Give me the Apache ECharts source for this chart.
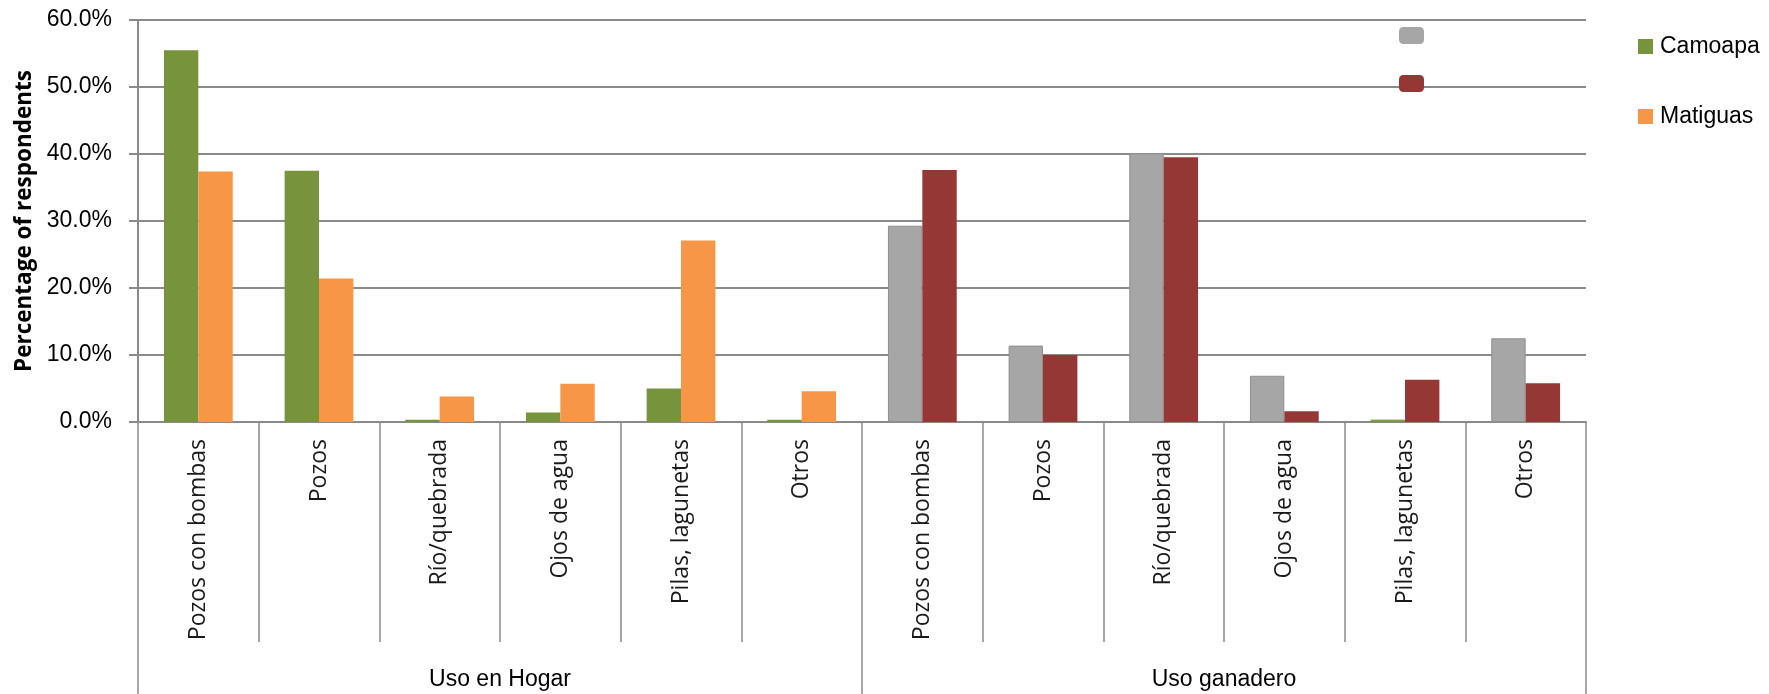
<!DOCTYPE html>
<html>
<head>
<meta charset="utf-8">
<script src="https://cdn.jsdelivr.net/npm/echarts@6/dist/echarts.min.js"></script>
<style>
html,body{margin:0;padding:0;background:#fff;}
#chart{width:1769px;height:694px;}
</style>
</head>
<body>
<div id="chart"></div>
<script>
const categories = ['Pozos con bombas','Pozos','Río/quebrada','Ojos de agua','Pilas, lagunetas','Otros',
                    'Pozos con bombas','Pozos','Río/quebrada','Ojos de agua','Pilas, lagunetas','Otros'];
const groups = ['Uso en Hogar','Uso ganadero'];
const camoapa  = [55.5, 37.5, 0.35, 1.4, 5.0, 0.35, null, null, null, null, null, null];
const matiguas = [37.4, 21.4, 3.8, 5.7, 27.1, 4.6, null, null, null, null, null, null];
const ganCamoapa  = [null, null, null, null, null, null, 29.3, 11.4, 40.1, 6.9, 0.35, 12.5];
const ganMatiguas = [null, null, null, null, null, null, 37.6, 10.0, 39.5, 1.6, 6.3, 5.8];
const yTicks = [0, 10, 20, 30, 40, 50, 60];

const GREEN = '#77933C', ORANGE = '#F79646', GRAY = '#A6A6A6', RED = '#953735';
const GRID = '#8a8a8a';

// in the reference, the tiny "Pilas, lagunetas" bar of the ganadero group is drawn green
const ganCamoapaData = ganCamoapa.map((v, i) =>
  (i === 10 ? {value: v, itemStyle: {color: GREEN, borderColor: GREEN}} : v));

const chart = echarts.init(document.getElementById('chart'));
const barCommon = {type: 'bar', barGap: '0%', barCategoryGap: '43%', xAxisIndex: 0, yAxisIndex: 0};
chart.setOption({
  animation: false,
  backgroundColor: '#fff',
  grid: {left: 138, right: 183, top: 20, bottom: 272, containLabel: false},
  legend: [
    {
      data: ['Camoapa ', 'Matiguas '],
      orient: 'vertical', left: 1394, top: 22, itemGap: 31,
      itemWidth: 25, itemHeight: 17, icon: 'roundRect',
      itemStyle: {borderWidth: 0},
      formatter: () => '',
      selectedMode: false
    },
    {
      data: ['Camoapa', 'Matiguas'],
      orient: 'vertical', left: 1633, top: 30, itemGap: 47,
      itemWidth: 15, itemHeight: 15, icon: 'rect',
      itemStyle: {borderWidth: 0},
      textStyle: {fontFamily: 'Liberation Sans', fontSize: 23, color: '#000', lineHeight: 23, padding: [0,0,0,2]},
      selectedMode: false
    }
  ],
  xAxis: [
    {
      type: 'category', data: categories, position: 'bottom', gridIndex: 0,
      boundaryGap: true,
      axisLine: {show: true, lineStyle: {color: GRID, width: 2}},
      axisTick: {show: true, interval: 0, length: 220, lineStyle: {color: GRID, width: 1.5}},
      axisLabel: {interval: 0, rotate: 90, margin: 17, fontFamily: 'Open Sans', fontSize: 23, color: '#1a1a1a'}
    },
    {
      type: 'category', data: groups, position: 'bottom', gridIndex: 0,
      boundaryGap: true,
      axisLine: {show: false},
      axisTick: {show: true, interval: 0, length: 280, lineStyle: {color: GRID, width: 1.5}},
      axisLabel: {interval: 0, margin: 246, fontFamily: 'Liberation Sans', fontSize: 23, color: '#000'}
    }
  ],
  yAxis: {
    type: 'value', min: 0, max: 60, interval: 10,
    name: 'Percentage of respondents', nameLocation: 'middle', nameGap: 101, nameRotate: 90,
    nameTextStyle: {fontFamily: 'Open Sans', fontWeight: 'bold', fontSize: 22.5, color: '#000'},
    axisLine: {show: true, lineStyle: {color: GRID, width: 2}},
    axisTick: {show: true, inside: false, length: 9, lineStyle: {color: GRID, width: 2}},
    splitLine: {show: true, lineStyle: {color: GRID, width: 2}},
    axisLabel: {margin: 26, fontFamily: 'Liberation Sans', fontSize: 23, color: '#000',
      formatter: v => yTicks.includes(v) ? v.toFixed(1) + '%' : ''}
  },
  series: [
    Object.assign({}, barCommon, {name: 'Camoapa', stack: 'L', data: camoapa,
      itemStyle: {color: GREEN}}),
    Object.assign({}, barCommon, {name: 'Camoapa ', stack: 'L', data: ganCamoapaData,
      itemStyle: {color: GRAY, borderColor: '#8f8f8f', borderWidth: 1}}),
    Object.assign({}, barCommon, {name: 'Matiguas', stack: 'R', data: matiguas,
      itemStyle: {color: ORANGE}}),
    Object.assign({}, barCommon, {name: 'Matiguas ', stack: 'R', data: ganMatiguas,
      itemStyle: {color: RED}})
  ]
});
</script>
</body>
</html>
